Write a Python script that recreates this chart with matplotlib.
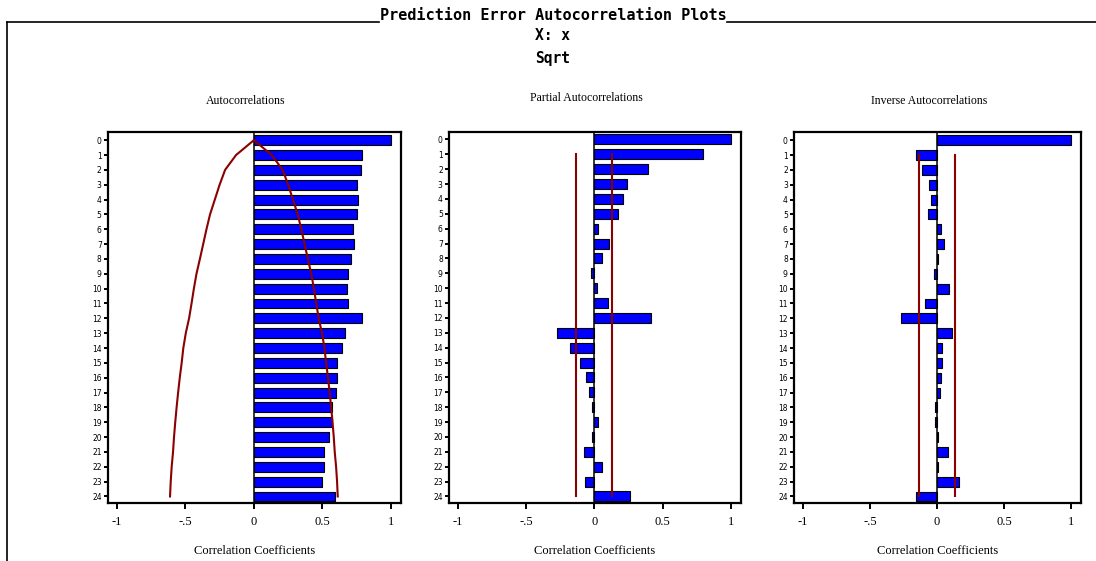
import matplotlib
matplotlib.use("Agg")
import matplotlib.pyplot as plt
from matplotlib.lines import Line2D

# ---------------------------------------------------
# values read off the SAS "Prediction Error Autocorrelation Plots" screen
# ---------------------------------------------------
lags = list(range(25))

acf = [1.00, 0.79, 0.78, 0.755, 0.76, 0.755, 0.72, 0.73, 0.71, 0.69,
       0.68, 0.69, 0.79, 0.665, 0.64, 0.61, 0.61, 0.60, 0.57, 0.57,
       0.55, 0.51, 0.51, 0.50, 0.595]

# two standard error curve of the autocorrelations (upper side, lower is mirrored)
acf_band = [0.0, 0.13, 0.21, 0.25, 0.285, 0.32, 0.346, 0.37, 0.394, 0.419,
            0.438, 0.455, 0.473, 0.497, 0.515, 0.527, 0.541, 0.553, 0.564, 0.574,
            0.583, 0.59, 0.6, 0.607, 0.612]

pacf = [1.00, 0.795, 0.393, 0.237, 0.212, 0.171, 0.024, 0.105, 0.054, -0.022,
        0.015, 0.097, 0.417, -0.276, -0.176, -0.103, -0.061, -0.037, -0.015, 0.024,
        -0.02, -0.078, 0.056, -0.071, 0.261]
pacf_band = 0.132

iacf = [1.00, -0.159, -0.109, -0.06, -0.042, -0.067, 0.027, 0.054, 0.008, -0.025,
        0.089, -0.092, -0.268, 0.114, 0.037, 0.037, 0.03, 0.025, -0.017, -0.017,
        0.008, 0.08, 0.008, 0.164, -0.159]
iacf_band = 0.135

xticks = [-1, -0.5, 0, 0.5, 1]
xtick_labels = ["-1", "-.5", "0", "0.5", "1"]

BAR_BLUE = "#0000ff"
BAND_RED = "#8b0000"
SERIF = "Liberation Serif"

fig = plt.figure(figsize=(10.96, 5.61), dpi=100)
fig.patch.set_facecolor("white")


def draw_panel(rect, values, title, title_y=1.09):
    """one correlogram panel: horizontal bars, lag 0 at the top"""
    ax = fig.add_axes(rect)
    ax.barh(lags, values, height=0.67, color=BAR_BLUE,
            edgecolor="black", linewidth=0.8, zorder=3)
    ax.axvline(0, color="black", linewidth=1.1, zorder=4)

    ax.set_xlim(-1.065, 1.073)
    ax.set_ylim(24.42, -0.52)

    ax.set_xticks(xticks)
    ax.set_xticklabels(xtick_labels, fontsize=9, family=SERIF)
    ax.set_yticks(lags)
    ax.set_yticklabels([str(v) for v in lags], fontsize=5.5)
    ax.tick_params(axis="y", length=3, width=1.4, pad=1.5)
    ax.tick_params(axis="x", length=4, width=1.4, pad=5.5)

    for spine in ax.spines.values():
        spine.set_linewidth(1.6)
        spine.set_color("black")

    ax.set_xlabel("Correlation Coefficients", fontsize=9, family=SERIF, labelpad=12)
    ax.text(0.469, title_y, title, transform=ax.transAxes, ha="center",
            va="center", fontsize=8.5, family=SERIF)
    return ax


ax1 = draw_panel([0.0985, 0.1039, 0.2673, 0.6600], acf, "Autocorrelations", 1.085)
ax1.plot(acf_band, lags, color=BAND_RED, linewidth=1.5, zorder=5)
ax1.plot([-b for b in acf_band], lags, color=BAND_RED, linewidth=1.5, zorder=5)

ax2 = draw_panel([0.4097, 0.1039, 0.2664, 0.6614], pacf, "Partial Autocorrelations", 1.09)
for b in (-pacf_band, pacf_band):
    ax2.plot([b, b], [lags[1], lags[-1]], color=BAND_RED, linewidth=1.5, zorder=5)

ax3 = draw_panel([0.7245, 0.1039, 0.2619, 0.6600], iacf, "Inverse Autocorrelations", 1.085)
for b in (-iacf_band, iacf_band):
    ax3.plot([b, b], [lags[1], lags[-1]], color=BAND_RED, linewidth=1.5, zorder=5)

# --- header text and the frame around the output window ---
MONO = "DejaVu Sans Mono"
fig.text(0.5045, 0.973, "Prediction Error Autocorrelation Plots", ha="center",
         va="center", fontsize=10.9, family=MONO, weight="bold")
fig.text(0.5045, 0.936, "X: x", ha="center", va="center", fontsize=10.5,
         family=MONO, weight="bold")
fig.text(0.5045, 0.896, "Sqrt", ha="center", va="center", fontsize=10.5,
         family=MONO, weight="bold")

frame_y = 1 - 22 / 561
frame_x = 7 / 1096
fig.add_artist(Line2D([frame_x, 379 / 1096], [frame_y, frame_y], color="black", linewidth=1.2))
fig.add_artist(Line2D([727 / 1096, 1.0], [frame_y, frame_y], color="black", linewidth=1.2))
fig.add_artist(Line2D([frame_x, frame_x], [0.0, frame_y], color="black", linewidth=1.2))

fig.savefig("out.png", dpi=100, facecolor="white")
plt.close(fig)
